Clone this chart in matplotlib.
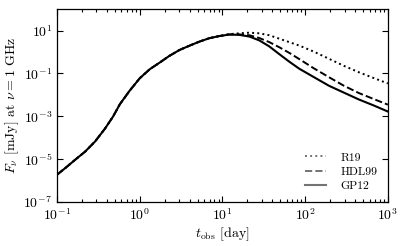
import numpy as np
import matplotlib
matplotlib.use("Agg")
import matplotlib.pyplot as plt
from matplotlib.ticker import LogLocator, FixedLocator, NullLocator

plt.rcParams['font.family'] = 'serif'
plt.rcParams['font.serif'] = ['cmr10', 'DejaVu Serif']
plt.rcParams['mathtext.fontset'] = 'cm'
plt.rcParams['axes.formatter.use_mathtext'] = True
plt.rcParams['font.size'] = 10

# log10(t / day) and log10(F / mJy)
rise_logt = [-1.0, -0.90, -0.78, -0.66, -0.54, -0.42, -0.32, -0.24, -0.12, 0.0,
             0.12, 0.24, 0.36, 0.48, 0.60, 0.72, 0.84, 0.96]
rise_logF = [-5.73, -5.42, -5.03, -4.65, -4.18, -3.58, -3.00, -2.44, -1.80, -1.23,
             -0.81, -0.50, -0.18, 0.09, 0.29, 0.48, 0.64, 0.74]

gp12_logt = [1.08, 1.2, 1.325, 1.446, 1.566, 1.687, 1.807, 1.928, 2.108, 2.289, 2.470, 2.651, 2.831, 3.0]
gp12_logF = [0.81, 0.80, 0.72, 0.54, 0.26, -0.10, -0.45, -0.78, -1.18, -1.58, -1.90, -2.22, -2.50, -2.78]

hdl_logt = [1.08, 1.2, 1.325, 1.446, 1.566, 1.687, 1.807, 1.928, 2.108, 2.289, 2.470, 2.651, 2.831, 3.0]
hdl_logF = [0.82, 0.82, 0.78, 0.65, 0.46, 0.22, -0.04, -0.33, -0.77, -1.18, -1.58, -1.92, -2.20, -2.46]

r19_logt = [1.08, 1.2, 1.325, 1.446, 1.566, 1.687, 1.807, 1.928, 2.108, 2.289, 2.470, 2.651, 2.831, 3.0]
r19_logF = [0.83, 0.87, 0.90, 0.87, 0.78, 0.62, 0.46, 0.30, 0.01, -0.32, -0.65, -0.95, -1.22, -1.47]

y_ticks = [1e-7, 1e-5, 1e-3, 1e-1, 1e1]

def series(lt, lF):
    t = 10 ** np.array(rise_logt + lt)
    F = 10 ** np.array(rise_logF + lF)
    return t, F

fig = plt.figure(figsize=(4.07, 2.46), dpi=100)
ax = fig.add_axes([0.140, 0.179, 0.813, 0.784])

t, F = series(r19_logt, r19_logF)
ax.plot(t, F, color='k', ls=':', lw=1.4, label='R19')
t, F = series(hdl_logt, hdl_logF)
ax.plot(t, F, color='k', ls='--', lw=1.4, label='HDL99')
t, F = series(gp12_logt, gp12_logF)
ax.plot(t, F, color='k', ls='-', lw=1.5, label='GP12')

ax.set_xscale('log')
ax.set_yscale('log')
ax.set_xlim(0.1, 1000)
ax.set_ylim(1e-7, 1e2)
ax.yaxis.set_major_locator(FixedLocator(y_ticks))
ax.yaxis.set_minor_locator(NullLocator())
ax.xaxis.set_major_locator(LogLocator(base=10.0, numticks=10))
ax.xaxis.set_minor_locator(LogLocator(base=10.0, subs=np.arange(2, 10), numticks=20))
ax.tick_params(which='both', direction='in', top=True, right=True, width=0.8)
ax.tick_params(which='major', length=4)
ax.tick_params(which='minor', length=2)
for s in ax.spines.values():
    s.set_linewidth(0.9)

ax.set_xlabel(r'$t_{\rm obs}$ [day]', labelpad=2)
ax.set_ylabel(r'$F_\nu$ [mJy] at $\nu = 1$ GHz', labelpad=2)

leg = ax.legend(loc='lower right', frameon=False, fontsize=8.5, handlelength=1.8,
                handletextpad=1.2, labelspacing=0.35, borderaxespad=0.5)
for h in leg.get_lines():
    h.set_color('0.45')

fig.savefig('out.png', dpi=100)
